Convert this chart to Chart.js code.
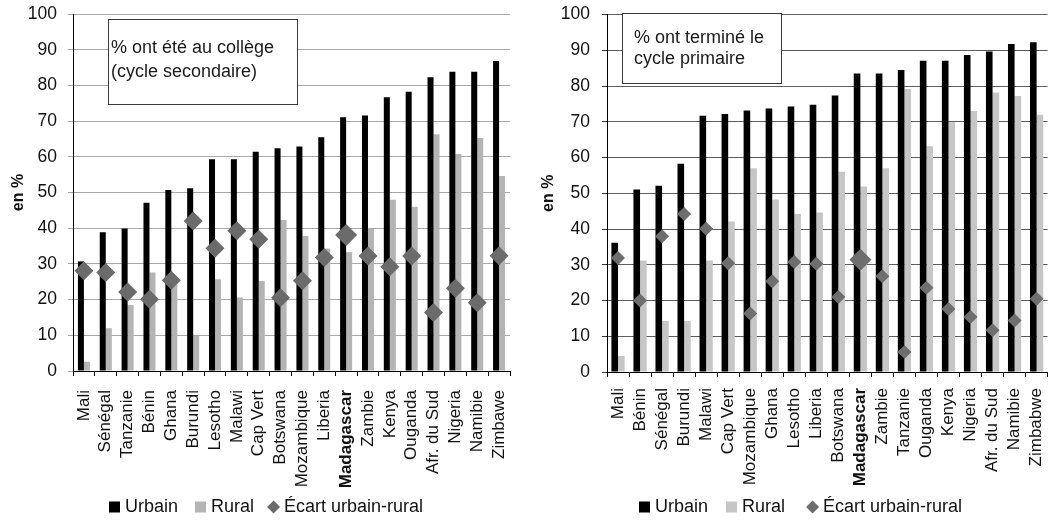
<!DOCTYPE html>
<html lang="fr">
<head>
<meta charset="utf-8">
<title>Urbain / Rural – scolarisation</title>
<script src="https://cdn.jsdelivr.net/npm/chart.js@4.4.1/dist/chart.umd.min.js"></script>
<style>
  html, body { margin: 0; padding: 0; background: #fff; }
  #wrap { position: relative; width: 1058px; height: 521px; overflow: hidden; }
  .panel { position: absolute; top: 0; height: 521px; }
  #p1 { left: 0; width: 530px; }
  #p2 { left: 530px; width: 528px; }
</style>
</head>
<body>
<div id="wrap">
  <div class="panel" id="p1"><canvas id="c1" width="530" height="521"></canvas></div>
  <div class="panel" id="p2"><canvas id="c2" width="528" height="521"></canvas></div>
</div>
<script>
// Secondary school attendance (left panel)
const paysCollege = ['Mali', 'Sénégal', 'Tanzanie', 'Bénin', 'Ghana', 'Burundi', 'Lesotho', 'Malawi', 'Cap Vert', 'Botswana',
  'Mozambique', 'Liberia', 'Madagascar', 'Zambie', 'Kenya', 'Ouganda', 'Afr. du Sud', 'Nigeria', 'Namibie', 'Zimbawe'];
const urbainCollege = [30.7, 38.9, 39.9, 47.1, 50.7, 51.2, 59.3, 59.3, 61.4, 62.4, 62.9, 65.5, 71.1, 71.6, 76.7, 78.2, 82.3, 83.8, 83.8, 86.8];
const ruralCollege = [2.6, 12.0, 18.5, 27.6, 25.5, 9.9, 25.7, 20.6, 25.2, 42.3, 37.8, 34.3, 33.3, 39.8, 48.0, 46.0, 66.3, 60.8, 65.3, 54.6];
const ecartCollege = [28.1, 27.6, 22.1, 20.1, 25.4, 42.0, 34.4, 39.3, 36.9, 20.5, 25.3, 31.8, 38.1, 32.2, 29.2, 32.2, 16.4, 23.2, 19.1, 32.3];

// Primary school completion (right panel)
const paysPrimaire = ['Mali', 'Bénin', 'Sénégal', 'Burundi', 'Malawi', 'Cap Vert', 'Mozambique', 'Ghana', 'Lesotho', 'Liberia',
  'Botswana', 'Madagascar', 'Zambie', 'Tanzanie', 'Ouganda', 'Kenya', 'Nigeria', 'Afr. du Sud', 'Namibie', 'Zimbabwe'];
const urbainPrimaire = [36.2, 51.1, 52.1, 58.3, 71.7, 72.2, 73.2, 73.7, 74.3, 74.8, 77.4, 83.5, 83.5, 84.5, 87.1, 87.1, 88.7, 89.7, 91.8, 92.3];
const ruralPrimaire = [4.5, 31.2, 14.3, 14.3, 31.2, 42.1, 57.0, 48.3, 44.2, 44.6, 56.0, 51.9, 57.0, 79.2, 63.2, 69.9, 73.0, 78.2, 77.2, 72.0];
const ecartPrimaire = [31.9, 20.0, 38.0, 44.2, 40.1, 30.4, 16.4, 25.4, 30.8, 30.3, 21.0, 31.4, 26.8, 5.6, 23.6, 17.6, 15.4, 11.7, 14.4, 20.5];

const legendLabels = ['Urbain', 'Rural', 'Écart urbain-rural'];
const FONT = '"Liberation Sans", Arial, sans-serif';
const HIGHLIGHT = 'Madagascar';

// White framed caption box drawn over the plot
const noteBox = {
  id: 'noteBox',
  afterDatasetsDraw(chart, args, o) {
    const ctx = chart.ctx;
    ctx.save();
    ctx.fillStyle = '#fff';
    ctx.fillRect(o.x, o.y, o.w, o.h);
    ctx.strokeStyle = '#3a3a3a';
    ctx.lineWidth = 1;
    ctx.strokeRect(o.x + 0.5, o.y + 0.5, o.w, o.h);
    ctx.fillStyle = '#1a1a1a';
    ctx.font = '18px ' + FONT;
    ctx.textBaseline = 'middle';
    o.lines.forEach((t, i) => ctx.fillText(t, o.textX, o.lineY[i]));
    ctx.restore();
  }
};

// Legend row under the category labels
const bottomLegend = {
  id: 'bottomLegend',
  afterDraw(chart, args, o) {
    const ctx = chart.ctx;
    ctx.save();
    ctx.font = '18px ' + FONT;
    ctx.textBaseline = 'middle';
    let x = o.x;
    const y = o.y;
    o.items.forEach((it, i) => {
      ctx.fillStyle = it.color;
      if (it.shape === 'diamond') {
        const r = 6.5;
        ctx.beginPath();
        ctx.moveTo(x, y);
        ctx.lineTo(x + r, y - r);
        ctx.lineTo(x + 2 * r, y);
        ctx.lineTo(x + r, y + r);
        ctx.closePath();
        ctx.fill();
        x += 2 * r + 4;
      } else {
        ctx.fillRect(x, y - 5.5, 11, 11);
        x += 11 + 5;
      }
      ctx.fillStyle = '#111';
      ctx.fillText(it.text, x, y);
      x += ctx.measureText(it.text).width + (o.gaps[i] || 0);
    });
    ctx.restore();
  }
};

function buildChart(id, p) {
  const pointSizes = p.labels.map(l => l === HIGHLIGHT ? p.bigRadius : p.radius);
  return new Chart(document.getElementById(id), {
    type: 'bar',
    data: {
      labels: p.labels,
      datasets: [
        { label: legendLabels[0], data: p.urbain, backgroundColor: '#000', borderWidth: 0, order: 2,
          categoryPercentage: p.catPct, barPercentage: 1.0 },
        { label: legendLabels[1], data: p.rural, backgroundColor: p.ruralColor, borderWidth: 0, order: 2,
          categoryPercentage: p.catPct, barPercentage: 1.0 },
        { type: 'line', label: legendLabels[2], data: p.ecart, showLine: false, order: 0,
          pointStyle: 'rectRot', pointRadius: pointSizes, pointHoverRadius: pointSizes,
          pointBackgroundColor: p.diamondColor, pointBorderWidth: 0, backgroundColor: p.diamondColor }
      ]
    },
    options: {
      responsive: false,
      animation: false,
      layout: { padding: { left: 0, right: p.padRight, top: p.padTop, bottom: 0 } },
      plugins: {
        legend: { display: false },
        tooltip: { enabled: false },
        noteBox: p.note,
        bottomLegend: {
          x: 109, y: 507, gaps: p.legendGaps,
          items: [
            { text: legendLabels[0], color: '#000', shape: 'square' },
            { text: legendLabels[1], color: p.ruralColor, shape: 'square' },
            { text: legendLabels[2], color: p.diamondColor, shape: 'diamond' }
          ]
        }
      },
      scales: {
        x: {
          offset: true,
          grid: { display: true, drawOnChartArea: false, drawTicks: true, tickLength: 5, color: '#000', offset: true },
          border: { display: true, color: '#000', width: 1 },
          ticks: {
            autoSkip: false, minRotation: 90, maxRotation: 90, padding: p.xLabelPad, color: '#111',
            font: (c) => ({ family: FONT, size: 17, lineHeight: 0.6,
              weight: (c.tick && c.tick.label === HIGHLIGHT) ? 'bold' : 'normal' })
          },
          afterFit(scale) { scale.height = p.xHeight; }
        },
        y: {
          min: 0, max: 100,
          grid: { color: p.gridColor, tickLength: 5, tickColor: p.tickColor, lineWidth: 1 },
          border: { display: true, color: '#000', width: 1 },
          ticks: { stepSize: 10, padding: p.yLabelPad, color: '#111',
            font: { family: FONT, size: 17.5, lineHeight: 0.3 } },
          title: { display: true, text: 'en %', color: '#111', padding: { top: 9 },
            font: { family: FONT, size: 16, weight: 'bold' } },
          afterFit(scale) { scale.width = p.yWidth; }
        }
      }
    },
    plugins: [noteBox, bottomLegend]
  });
}

buildChart('c1', {
  labels: paysCollege, urbain: urbainCollege, rural: ruralCollege, ecart: ecartCollege,
  ruralColor: '#b4b4b4', diamondColor: '#6b6b6b', gridColor: '#a8a8a8', tickColor: '#a8a8a8',
  radius: 9.5, bigRadius: 11, catPct: 0.55, legendGaps: [17, 13],
  padRight: 20, padTop: 14, yWidth: 73, xHeight: 150, xLabelPad: 14, yLabelPad: 11,
  note: { x: 108, y: 19, w: 189, h: 85, textX: 111, lineY: [48, 72.5],
    lines: ['% ont été au collège', '(cycle secondaire)'] }
});

buildChart('c2', {
  labels: paysPrimaire, urbain: urbainPrimaire, rural: ruralPrimaire, ecart: ecartPrimaire,
  ruralColor: '#c6c6c6', diamondColor: '#6e6e6e', gridColor: '#5c5c5c', tickColor: '#333',
  radius: 7, bigRadius: 11, catPct: 0.6, legendGaps: [18, 21],
  padRight: 7, padTop: 14, yWidth: 77, xHeight: 149, xLabelPad: 11, yLabelPad: 12,
  note: { x: 92, y: 13, w: 159, h: 70, textX: 104, lineY: [38, 59.5],
    lines: ['% ont terminé le', 'cycle primaire'] }
});
</script>
</body>
</html>
